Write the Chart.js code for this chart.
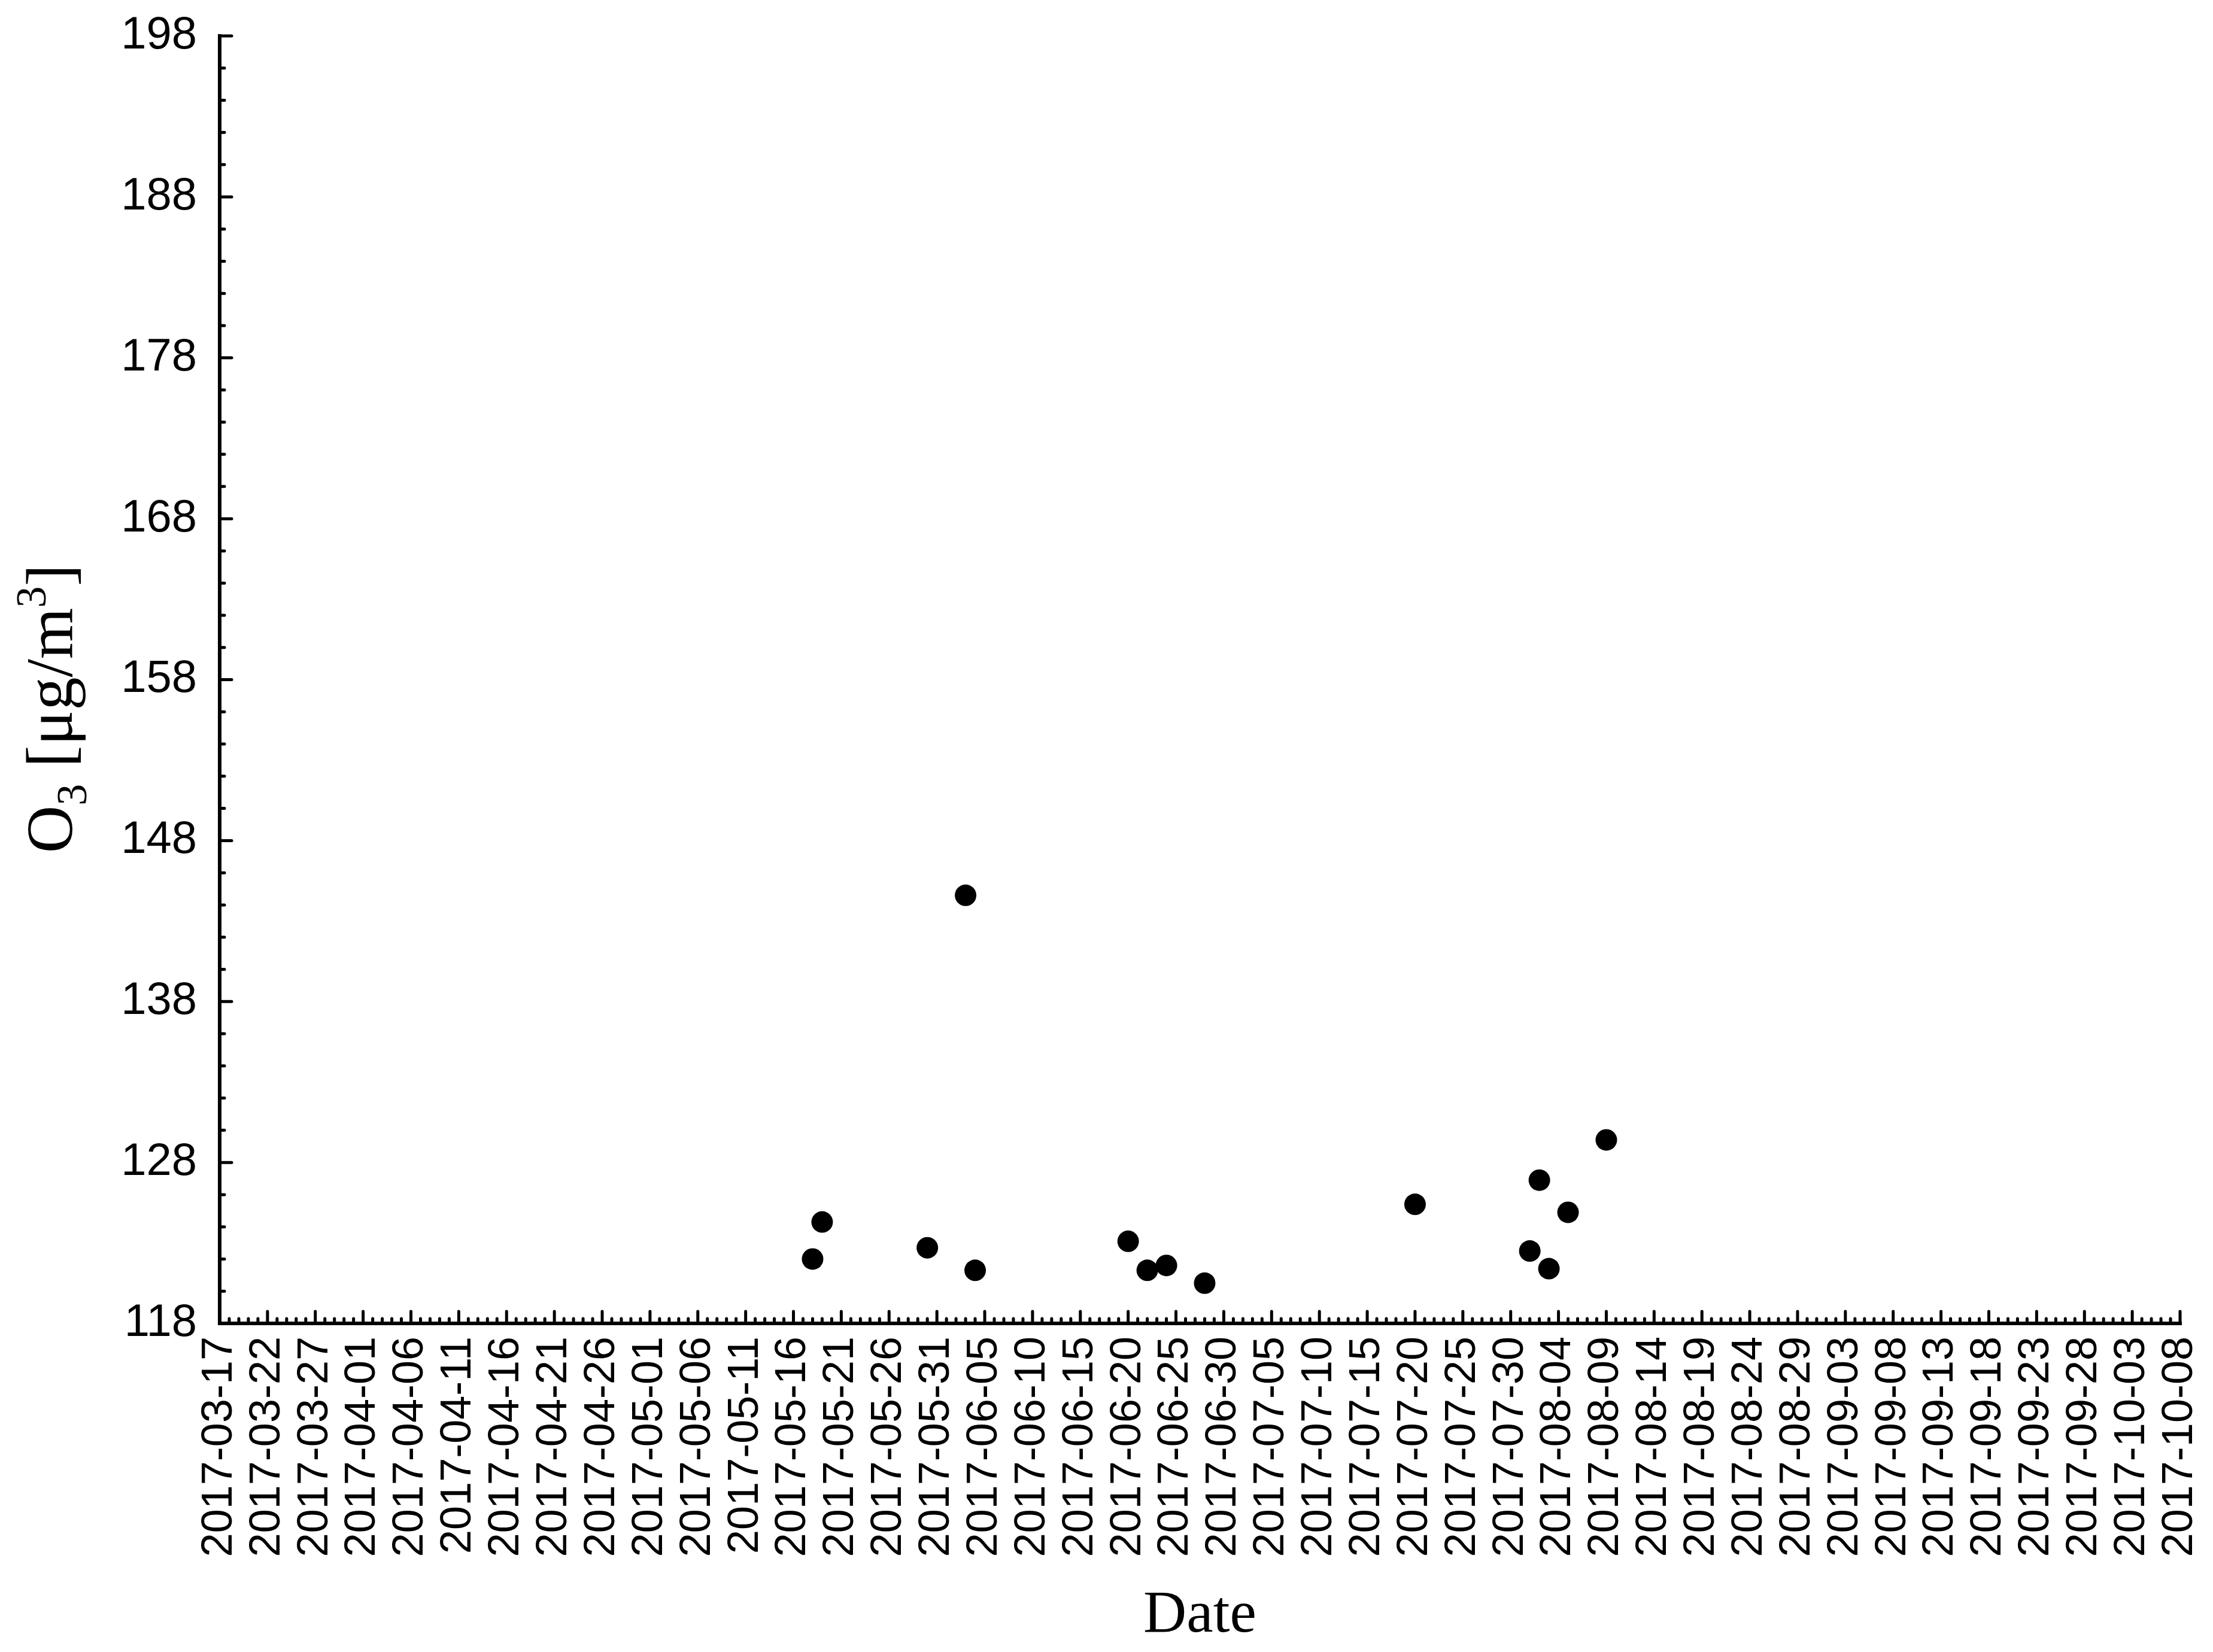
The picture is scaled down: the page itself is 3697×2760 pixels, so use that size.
<!DOCTYPE html>
<html>
<head>
<meta charset="utf-8">
<title>O3 by date</title>
<script src="https://cdn.jsdelivr.net/npm/chart.js@4.4.1/dist/chart.umd.min.js"></script>
<style>
  html, body { margin: 0; padding: 0; background: #fff; }
  canvas { display: block; }
</style>
</head>
<body>
<canvas id="o3Chart" width="3697" height="2760"></canvas>
<script>
// axis range
const startDate = '2017-03-17';
const endDate = '2017-10-08';
const xStepDays = 5;
const yMin = 118;
const yMax = 198;
const yStep = 10;

// measured samples
const sampleDates = [
    '2017-05-18', '2017-05-19', '2017-05-30', '2017-06-03', '2017-06-04',
    '2017-06-20', '2017-06-22', '2017-06-24', '2017-06-28', '2017-07-20',
    '2017-08-01', '2017-08-02', '2017-08-03', '2017-08-05', '2017-08-09'
];
const o3Values = [
    122.0, 124.3, 122.7, 144.6, 121.3,
    123.1, 121.3, 121.6, 120.5, 125.4,
    122.5, 126.9, 121.4, 124.9, 129.4
];

const DAY = 86400000;
const t0 = Date.parse(startDate + 'T00:00:00Z');
const dayIndex = (s) => Math.round((Date.parse(s + 'T00:00:00Z') - t0) / DAY);
const dayLabel = (d) => new Date(t0 + d * DAY).toISOString().slice(0, 10);
const lastDay = dayIndex(endDate);

const points = sampleDates.map((d, i) => ({ x: dayIndex(d), y: o3Values[i] }));

const sansFont = 'Liberation Sans';
const serifFont = 'Liberation Serif';

// axis lines with inward ticks (major + minor)
const axesPlugin = {
    id: 'axes',
    afterDraw(chart) {
        const { ctx, chartArea: a, scales: { x, y } } = chart;
        ctx.save();
        ctx.strokeStyle = '#000';
        ctx.lineWidth = 6;
        ctx.lineCap = 'butt';
        ctx.beginPath();
        ctx.moveTo(a.left, a.top - 3);
        ctx.lineTo(a.left, a.bottom);
        ctx.lineTo(a.right + 3, a.bottom);
        ctx.stroke();

        ctx.lineWidth = 5;
        ctx.lineCap = 'round';
        ctx.beginPath();
        for (let d = 0; d <= lastDay; d++) {
            const px = x.getPixelForValue(d);
            const len = d % xStepDays === 0 ? 17 : 5;
            ctx.moveTo(px, a.bottom - 3);
            ctx.lineTo(px, a.bottom - 3 - len);
        }
        for (let v = yMin; v <= yMax; v += 2) {
            const py = y.getPixelForValue(v);
            const len = (v - yMin) % yStep === 0 ? 17 : 5;
            ctx.moveTo(a.left + 3, py);
            ctx.lineTo(a.left + 3 + len, py);
        }
        ctx.stroke();
        ctx.restore();
    }
};

// y title with sub/superscript
const yTitlePlugin = {
    id: 'yTitle',
    afterDraw(chart) {
        const { ctx } = chart;
        const big = 110, small = 72;
        const parts = [
            { t: 'O', size: big, dy: 0 },
            { t: '3', size: small, dy: 24 },
            { t: ' [\u03bcg/m', size: big, dy: 0 },
            { t: '3', size: small, dy: -44 },
            { t: ']', size: big, dy: 0 }
        ];
        ctx.save();
        ctx.fillStyle = '#000';
        ctx.textBaseline = 'alphabetic';
        let w = 0;
        parts.forEach(p => {
            ctx.font = `${p.size}px "${serifFont}"`;
            p.w = ctx.measureText(p.t).width;
            w += p.w;
        });
        ctx.translate(120, 1184);
        ctx.rotate(-Math.PI / 2);
        let cx = -w / 2;
        parts.forEach(p => {
            ctx.font = `${p.size}px "${serifFont}"`;
            ctx.fillText(p.t, cx, p.dy);
            cx += p.w;
        });
        ctx.restore();
    }
};

function drawChart() {
    new Chart(document.getElementById('o3Chart'), {
        type: 'scatter',
        data: {
            datasets: [{
                data: points,
                pointRadius: 18,
                pointHoverRadius: 18,
                backgroundColor: '#000',
                borderWidth: 0
            }]
        },
        options: {
            responsive: false,
            animation: false,
            devicePixelRatio: 1,
            layout: { padding: { top: 60, right: 55, left: 0, bottom: 0 } },
            plugins: {
                legend: { display: false },
                tooltip: { enabled: false }
            },
            scales: {
                x: {
                    type: 'linear',
                    min: 0,
                    max: lastDay,
                    grid: { display: false },
                    border: { display: false },
                    ticks: {
                        stepSize: xStepDays,
                        autoSkip: false,
                        minRotation: 90,
                        maxRotation: 90,
                        padding: 14,
                        color: '#000',
                        font: { family: sansFont, size: 72 },
                        callback: (v) => dayLabel(v)
                    },
                    title: {
                        display: true,
                        text: 'Date',
                        color: '#000',
                        font: { family: serifFont, size: 100 },
                        padding: { top: 0, bottom: 0 }
                    },
                    afterFit: (s) => {
                        s.height = 549;
                        s.paddingLeft = 0;
                        s.paddingRight = 0;
                    }
                },
                y: {
                    min: yMin,
                    max: yMax,
                    grid: { display: false },
                    border: { display: false },
                    ticks: {
                        stepSize: yStep,
                        padding: 30,
                        color: '#000',
                        font: { family: sansFont, size: 76 }
                    },
                    afterFit: (s) => {
                        s.width = 367;
                        s.paddingTop = 0;
                        s.paddingBottom = 0;
                    }
                }
            }
        },
        plugins: [axesPlugin, yTitlePlugin]
    });
}

Promise.all([
    document.fonts.load(`72px "${sansFont}"`),
    document.fonts.load(`100px "${serifFont}"`)
]).then(drawChart, drawChart);
</script>
</body>
</html>
